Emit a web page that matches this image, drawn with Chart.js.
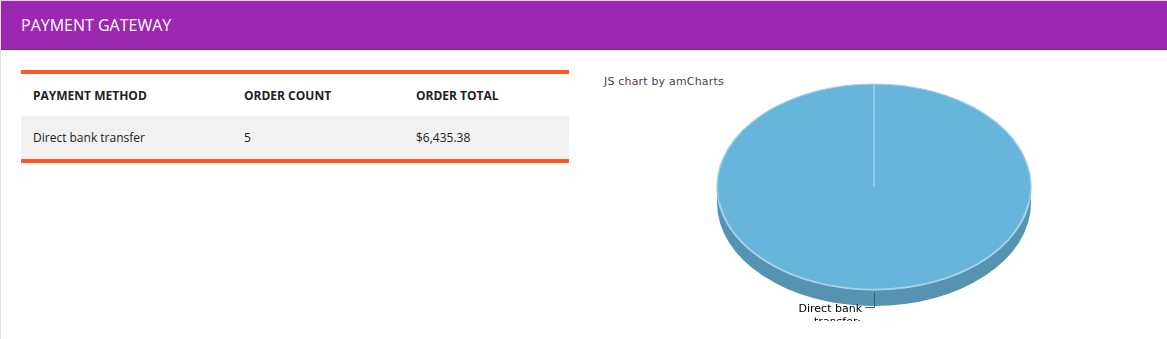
<!DOCTYPE html>
<html>
<head>
<meta charset="utf-8">
<script src="https://cdn.jsdelivr.net/npm/chart.js@4/dist/chart.umd.min.js"></script>
<style>
  html, body { margin:0; padding:0; background:#fff; width:1167px; height:339px; overflow:hidden; }
  body { font-family: "Open Sans", "Noto Sans", sans-serif; position:relative; }
  .frame { position:absolute; left:0; top:0; width:1166px; height:339px; border-left:1px solid #e2e2e2; border-top:1px solid #d8d8d8; }
  .head { position:absolute; left:1px; top:1px; width:1166px; height:48px; background:#9c27b0; border-bottom:1px solid #7e1f8f; }
  .head span { position:absolute; left:20px; top:13px; color:#fff; font-size:16px; line-height:22px; letter-spacing:0; }
  table { position:absolute; left:21px; top:70px; width:548px; border-collapse:collapse; border-top:4px solid #ff5722; border-bottom:4px solid #ff5722; font-size:12px; color:#222; }
  th { text-align:left; font-weight:700; height:42px; padding:0 0 0 12px; background:#fff; box-shadow:0 3px 4px rgba(0,0,0,0.08); position:relative; }
  td { height:43px; padding:0 0 0 12px; background:#f1f1f1; }
  .credit { position:absolute; left:604px; top:75px; font-family:"DejaVu Sans", Verdana, sans-serif; font-size:11px; letter-spacing:0.18px; color:#4a4050; }
  #wrap { position:absolute; left:590px; top:62px; width:570px; height:259px; }
</style>
</head>
<body>
<div class="frame"></div>
<div class="head"><span>PAYMENT GATEWAY</span></div>
<table id="tbl">
  <thead><tr><th style="width:199px">PAYMENT METHOD</th><th style="width:160px">ORDER COUNT</th><th>ORDER TOTAL</th></tr></thead>
  <tbody id="tb"></tbody>
</table>
<div class="credit">JS chart by amCharts</div>
<div id="wrap"><canvas id="c"></canvas></div>
<script>
const categories = ["Direct bank transfer"];
const orderCounts = [5];
const orderTotals = [6435.38];
const labelLines = [["Direct bank", "transfer:"]];

const tb = document.getElementById('tb');
categories.forEach((c, i) => {
  const tr = document.createElement('tr');
  const fmt = '$' + orderTotals[i].toLocaleString('en-US', {minimumFractionDigits:2, maximumFractionDigits:2});
  [c, String(orderCounts[i]), fmt].forEach(t => { const td = document.createElement('td'); td.textContent = t; tr.appendChild(td); });
  tb.appendChild(tr);
});

const RX = 157, RY = 103, DEPTH = 16;
const pie3d = {
  id: 'pie3d',
  beforeDatasetsDraw(chart) {
    const ctx = chart.ctx;
    const arc = chart.getDatasetMeta(0).data[0];
    const cx = arc.x, cy = arc.y, R = arc.outerRadius;
    ctx.save();
    ctx.fillStyle = '#5593b1';
    ctx.beginPath();
    ctx.ellipse(cx, cy + DEPTH, RX, RY, 0, 0, Math.PI * 2);
    ctx.fill();
    ctx.fillRect(cx - RX, cy, RX * 2, DEPTH);
    ctx.restore();
    ctx.save();
    ctx.translate(cx, cy);
    ctx.scale(RX / R, RY / R);
    ctx.translate(-cx, -cy);
  },
  afterDatasetsDraw(chart) {
    const ctx = chart.ctx;
    ctx.restore();
    const arc = chart.getDatasetMeta(0).data[0];
    const cx = arc.x, cy = arc.y;
    ctx.save();
    ctx.strokeStyle = '#a6d3ea';
    ctx.lineWidth = 1.5;
    ctx.beginPath();
    ctx.ellipse(cx, cy, RX - 0.5, RY - 0.5, 0, Math.PI * 0.05, Math.PI * 0.95);
    ctx.stroke();
    ctx.strokeStyle = '#4a5a66';
    ctx.lineWidth = 1;
    ctx.beginPath();
    ctx.moveTo(cx + 0.5, cy + RY + 2);
    ctx.lineTo(cx + 0.5, cy + RY + DEPTH + 1.5);
    ctx.lineTo(cx - 9, cy + RY + DEPTH + 1.5);
    ctx.stroke();
    ctx.fillStyle = '#000';
    ctx.font = '11px "DejaVu Sans", Verdana, sans-serif';
    ctx.textAlign = 'right';
    ctx.textBaseline = 'alphabetic';
    labelLines[0].forEach((t, k) => ctx.fillText(t, cx - 12 + (k ? -1 : 0), cy + RY + 22 + k * 13));
    ctx.restore();
  }
};

new Chart(document.getElementById('c'), {
  type: 'pie',
  data: {
    labels: categories,
    datasets: [{
      data: orderTotals,
      backgroundColor: ['#67b5db'],
      borderColor: ['#9dcfe7'],
      borderWidth: 1.2
    }]
  },
  options: {
    responsive: true,
    maintainAspectRatio: false,
    animation: false,
    layout: { padding: { left: 0, right: 2, top: 0, bottom: 9 } },
    plugins: { legend: { display: false }, tooltip: { enabled: false } },
    events: []
  },
  plugins: [pie3d]
});
</script>
</body>
</html>
